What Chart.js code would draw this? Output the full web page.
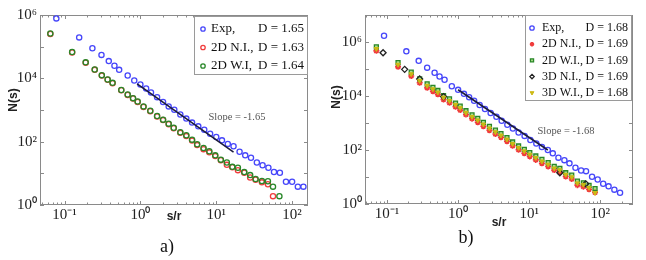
<!DOCTYPE html>
<html>
<head>
<meta charset="utf-8">
<script src="https://cdn.jsdelivr.net/npm/chart.js@4.4.1/dist/chart.umd.min.js"></script>
<style>
  body { margin: 0; background: #fff; }
  .panel { position: absolute; top: 0; width: 323px; height: 260px; }
</style>
</head>
<body>
<div class="panel" style="left:0"><canvas id="chartA" width="323" height="260"></canvas></div>
<div class="panel" style="left:323px"><canvas id="chartB" width="323" height="260"></canvas></div>
<script>
// ---- panel a) ----
const aExpS = [0.078, 0.156, 0.233, 0.307, 0.383, 0.455, 0.525, 0.68, 0.83, 1.0, 1.19, 1.38, 1.66, 1.99, 2.36, 2.8, 3.36, 4.03, 4.8, 5.8, 6.95, 8.3, 10, 11.9, 14.2, 16.9, 20.3, 24.1, 28.7, 34.3, 40.8, 48.7, 57.7, 69, 83, 100, 119, 141];
const aExpN = [7.8e5, 1.96e5, 8.9e4, 5.5e4, 3.5e4, 2.5e4, 1.85e4, 1.23e4, 8.5e3, 6.4e3, 4.8e3, 3.6e3, 2.55e3, 1.78e3, 1.3e3, 1.02e3, 720, 535, 400, 305, 240, 178, 140, 110, 85, 72, 48, 37, 31, 22, 18, 15, 11, 10.4, 5.4, 5.4, 3.8, 3.8];
const aNIS = [0.065, 0.126, 0.19, 0.25, 0.31, 0.37, 0.43, 0.56, 0.68, 0.80, 0.92, 1.1, 1.35, 1.66, 1.99, 2.36, 2.75, 3.36, 4.03, 4.8, 5.6, 6.8, 8.1, 9.7, 11.5, 13.8, 16.3, 19.3, 23.4, 28, 33, 40, 48, 56];
const aNIN = [2.5e5, 6.6e4, 3.1e4, 1.85e4, 1.22e4, 9.0e3, 7.0e3, 4.2e3, 3.0e3, 2.3e3, 1.8e3, 1.25e3, 920, 620, 480, 355, 265, 190, 150, 108, 78, 58, 46, 35, 26, 18.5, 15.5, 12.6, 10.5, 7.4, 6.3, 5.2, 4.5, 1.9];
const aWIS = [0.065, 0.126, 0.19, 0.25, 0.31, 0.37, 0.43, 0.56, 0.68, 0.80, 0.92, 1.1, 1.35, 1.66, 1.99, 2.36, 2.75, 3.36, 4.03, 4.8, 5.6, 6.8, 8.1, 9.7, 11.5, 13.8, 16.3, 19.3, 23.4, 28, 33, 40, 48, 56, 68];
const aWIN = [2.6e5, 6.8e4, 3.2e4, 1.9e4, 1.26e4, 9.2e3, 7.2e3, 4.3e3, 3.1e3, 2.37e3, 1.86e3, 1.3e3, 950, 645, 495, 370, 275, 198, 159, 116, 83, 63, 50, 37, 27, 22, 16, 15, 11, 8.8, 6.6, 5.7, 5.6, 3.8, 1.9];
const aFitS = [0.905, 16.9];
const aFitN = [6700, 47];
const aNames = ['Exp,', '2D N.I.,', '2D W.I,'];
const aDims = ['D = 1.65', 'D = 1.63', 'D = 1.64'];
const aSlope = 'Slope = -1.65';

// ---- panel b) ----
const bExpS = [0.0908, 0.187, 0.279, 0.367, 0.467, 0.548, 0.645, 0.816, 1.0, 1.21, 1.43, 1.68, 2.01, 2.39, 2.87, 3.46, 4.10, 4.93, 5.90, 7.10, 8.62, 10.4, 12.6, 15.1, 18.3, 21.5, 25.8, 31.3, 36.9, 44.8, 53.8, 63.1, 76.7, 92, 110, 131, 158, 190];
const bExpN = [1.7e6, 4.5e5, 2.0e5, 1.12e5, 7.3e4, 5.3e4, 4.0e4, 2.3e4, 1.69e4, 1.2e4, 9.0e3, 6.7e3, 4.66e3, 3.3e3, 2.34e3, 1.7e3, 1.21e3, 857, 629, 446, 333, 236, 173, 129, 100, 75, 52, 42, 32, 22, 17.5, 16.5, 10.2, 8.1, 5.6, 4.5, 3.4, 2.6];
const bSimS = [0.0708, 0.143, 0.219, 0.288, 0.367, 0.442, 0.519, 0.624, 0.757, 0.92, 1.07, 1.29, 1.57, 1.89, 2.27, 2.76, 3.35, 4.01, 4.87, 5.85, 7.1, 8.54, 10.2, 12.4, 15.1, 18.5, 22.5, 27.0, 32.7, 39.7, 47.7, 57.9, 69.6, 84.5];
const b2NIN = [4.7e5, 1.2e5, 5.5e4, 3.1e4, 2.0e4, 1.5e4, 1.15e4, 7.4e3, 5.6e3, 4.0e3, 3.0e3, 2.05e3, 1.45e3, 1.07e3, 760, 540, 390, 295, 210, 143, 102, 76, 58, 43, 32, 24.5, 18, 15, 10.4, 8.4, 5.0, 4.4, 3.5, 2.7];
const b2WIN = [6.6e5, 1.72e5, 7.7e4, 4.3e4, 2.8e4, 2.1e4, 1.6e4, 1.03e4, 7.8e3, 5.5e3, 4.2e3, 2.85e3, 2.0e3, 1.48e3, 1.05e3, 746, 543, 408, 290, 198, 141, 106, 80, 60, 45, 34, 25, 21, 14.4, 11.7, 7.0, 6.1, 4.9, 3.7];
const b3NIS = [0.088, 0.177, 0.288, 0.624, 27, 62.6];
const b3NIN = [4.0e5, 9.7e4, 4.3e4, 9.5e3, 14.4, 5.6];
const b3WIN = [5.6e5, 1.46e5, 6.5e4, 3.65e4, 2.4e4, 1.8e4, 1.36e4, 8.8e3, 6.6e3, 4.7e3, 3.6e3, 2.4e3, 1.7e3, 1.26e3, 890, 635, 460, 347, 246, 168, 120, 90, 68, 51, 38, 29, 21, 18, 12.2, 9.9, 5.9, 5.2, 4.0, 2.6];
const bFitS = [1.0, 18.3];
const bFitN = [17000, 100];
const bNames = ['Exp,', '2D N.I.,', '2D W.I.,', '3D N.I.,', '3D W.I.,'];
const bDims = ['D = 1.68', 'D = 1.69', 'D = 1.69', 'D = 1.69', 'D = 1.68'];
const bSlope = 'Slope = -1.68';

const xTicks = [0.1, 1, 10, 100];
const yTicks = [1, 100, 1e4, 1e6];

const BLUE = 'rgb(70,70,250)', RED = 'rgb(240,60,60)', GREEN = 'rgb(40,135,40)';
const BLACK = '#222', YELLOW = 'rgb(205,185,20)', FIT = '#1c1c3c';
const SERIF = '"Liberation Serif", "Times New Roman", serif';
const SANS = '"Liberation Sans", Arial, sans-serif';

const sup = {'-': '⁻', '0': '⁰', '1': '¹', '2': '²', '3': '³', '4': '⁴', '5': '⁵', '6': '⁶', '7': '⁷'};
function powLabel(v) {
  const e = Math.round(Math.log10(v));
  return '10' + String(e).split('').map(c => sup[c]).join('');
}
const pts = (xs, ys) => xs.map((v, i) => ({x: v, y: ys[i]}));

function marker(label, xs, ys, style, color, fill, order, extra) {
  return Object.assign({
    label: label, data: pts(xs, ys), order: order,
    pointStyle: style, pointRadius: 2.6, pointBorderWidth: 1.3,
    pointBorderColor: color, pointBackgroundColor: fill,
    borderColor: color, backgroundColor: fill, showLine: false
  }, extra || {});
}
function fitLine(xs, ys) {
  return {label: 'fit', data: pts(xs, ys), showLine: true, pointRadius: 0,
    borderColor: FIT, borderWidth: 1.6, order: 0};
}

// frame, inward ticks, legend box, labels
const decor = {
  id: 'decor',
  beforeDatasetsDraw(chart) {
    const {ctx, chartArea: a, scales: {x, y}} = chart;
    ctx.save();
    ctx.strokeStyle = '#8a8a8a';
    ctx.lineWidth = 1;
    ctx.strokeRect(a.left + 0.5, a.top + 0.5, a.width - 1, a.height - 1);
    ctx.beginPath();
    for (let e = Math.floor(Math.log10(x.min)); e <= Math.ceil(Math.log10(x.max)); e++) {
      for (let k = 1; k <= 9; k++) {
        const v = k * Math.pow(10, e);
        if (v < x.min || v > x.max) continue;
        const p = Math.round(x.getPixelForValue(v)) + 0.5;
        const len = k === 1 ? 4 : 2.5;
        ctx.moveTo(p, a.bottom); ctx.lineTo(p, a.bottom - len);
        ctx.moveTo(p, a.top); ctx.lineTo(p, a.top + len);
      }
    }
    for (let e = 0; e <= Math.round(Math.log10(y.max)); e++) {
      const p = Math.round(y.getPixelForValue(Math.pow(10, e))) + 0.5;
      ctx.moveTo(a.left, p); ctx.lineTo(a.left + 4, p);
      ctx.moveTo(a.right, p); ctx.lineTo(a.right - 4, p);
    }
    ctx.stroke();
    ctx.restore();
  },
  afterDraw(chart, args, o) {
    const {ctx, scales: {x, y}} = chart;
    ctx.save();
    // legend
    const lg = o.legend;
    ctx.fillStyle = '#fff';
    ctx.fillRect(lg.x, lg.y, lg.w, lg.h);
    ctx.strokeStyle = '#9a9a9a';
    ctx.lineWidth = 1;
    ctx.strokeRect(lg.x + 0.5, lg.y + 0.5, lg.w, lg.h);
    ctx.font = lg.size + 'px ' + SERIF;
    ctx.textBaseline = 'middle';
    lg.names.forEach((name, i) => {
      const ds = chart.data.datasets[i];
      const cy = lg.y + lg.first + i * lg.row;
      ctx.fillStyle = ds.pointBackgroundColor;
      ctx.strokeStyle = ds.pointBorderColor;
      ctx.lineWidth = ds.pointBorderWidth;
      Chart.helpers.drawPoint(ctx, {pointStyle: ds.pointStyle, radius: 2.2,
        rotation: ds.pointRotation || 0, borderWidth: ds.pointBorderWidth}, lg.mx, cy);
      ctx.fillStyle = '#111';
      ctx.textAlign = 'left';
      ctx.fillText(name, lg.tx, cy);
      ctx.textAlign = 'right';
      ctx.fillText(lg.dims[i], lg.x + lg.w - 3, cy);
    });
    // slope note
    ctx.fillStyle = '#555';
    ctx.font = '10.5px ' + SERIF;
    ctx.textAlign = 'left';
    ctx.fillText(o.slope.text, x.getPixelForValue(o.slope.s), y.getPixelForValue(o.slope.n));
    // y axis title
    ctx.fillStyle = '#222';
    ctx.font = 'bold 12px ' + SANS;
    ctx.textAlign = 'center';
    ctx.translate(o.ylab.x, o.ylab.y);
    ctx.rotate(-Math.PI / 2);
    ctx.fillText('N(s)', 0, 0);
    ctx.setTransform(1, 0, 0, 1, 0, 0);
    // caption
    ctx.font = '18px ' + SERIF;
    ctx.fillStyle = '#111';
    ctx.fillText(o.caption.text, o.caption.x, o.caption.y);
    ctx.restore();
  }
};

function axes(xMin, xMax, yMax, yWidth, titlePad) {
  return {
    x: {
      type: 'logarithmic', min: xMin, max: xMax,
      border: {display: false}, grid: {display: false, drawTicks: false},
      afterBuildTicks: s => { s.ticks = xTicks.map(v => ({value: v})); },
      afterFit: s => { s.height = 30; },
      ticks: {callback: v => powLabel(v), autoSkip: false, maxRotation: 0, padding: 1,
        color: '#222', font: {family: SERIF, size: 15}},
      title: {display: true, text: 's/r', color: '#222', padding: {top: 0, bottom: titlePad},
        font: {family: SANS, size: 12, weight: 'bold'}}
    },
    y: {
      type: 'logarithmic', min: 1, max: yMax,
      border: {display: false}, grid: {display: false, drawTicks: false},
      afterBuildTicks: s => { s.ticks = yTicks.map(v => ({value: v})); },
      afterFit: s => { s.width = yWidth; },
      ticks: {callback: v => powLabel(v), autoSkip: false, padding: 3,
        color: '#222', font: {family: SERIF, size: 15}}
    }
  };
}

new Chart(document.getElementById('chartA'), {
  type: 'scatter',
  data: {datasets: [
    marker('Exp', aExpS, aExpN, 'circle', BLUE, 'rgba(0,0,0,0)', 3),
    marker('2D N.I.', aNIS, aNIN, 'circle', RED, 'rgba(0,0,0,0)', 2),
    marker('2D W.I', aWIS, aWIN, 'circle', GREEN, 'rgba(0,0,0,0)', 1),
    fitLine(aFitS, aFitN)
  ]},
  options: {
    responsive: false, animation: false,
    layout: {padding: {top: 15, right: 15, bottom: 25, left: 0}},
    scales: axes(0.0475, 162, 1e6, 40, 11),
    plugins: {
      legend: {display: false}, tooltip: {enabled: false},
      decor: {
        legend: {x: 194, y: 16, w: 113, h: 58, first: 13, row: 18.5, mx: 203, tx: 211,
          size: 13, names: aNames, dims: aDims},
        slope: {s: 7.9, n: 590, text: aSlope},
        ylab: {x: 14, y: 100},
        caption: {text: 'a)', x: 167, y: 247}
      }
    }
  },
  plugins: [decor]
});

new Chart(document.getElementById('chartB'), {
  type: 'scatter',
  data: {datasets: [
    marker('Exp', bExpS, bExpN, 'circle', BLUE, 'rgba(0,0,0,0)', 5),
    marker('2D N.I.', bSimS, b2NIN, 'star', RED, RED, 4, {pointRadius: 3, pointBorderWidth: 1.6}),
    marker('2D W.I.', bSimS, b2WIN, 'rect', GREEN, 'rgba(120,200,60,0.6)', 3, {pointRadius: 2.8}),
    marker('3D N.I.', b3NIS, b3NIN, 'rectRot', BLACK, 'rgba(0,0,0,0)', 2, {pointRadius: 3}),
    marker('3D W.I.', bSimS, b3WIN, 'triangle', YELLOW, YELLOW, 1, {pointRotation: 180, pointRadius: 2.6, pointBorderWidth: 1}),
    fitLine(bFitS, bFitN)
  ]},
  options: {
    responsive: false, animation: false,
    layout: {padding: {top: 15, right: 13, bottom: 26, left: 0}},
    scales: axes(0.049, 289, 1e7, 42, 4),
    plugins: {
      legend: {display: false}, tooltip: {enabled: false},
      decor: {
        legend: {x: 202, y: 15, w: 106, h: 85, first: 13, row: 16.2, mx: 209, tx: 219,
          size: 12, names: bNames, dims: bDims},
        slope: {s: 13.1, n: 500, text: bSlope},
        ylab: {x: 14, y: 97},
        caption: {text: 'b)', x: 143, y: 238}
      }
    }
  },
  plugins: [decor]
});
</script>
</body>
</html>
